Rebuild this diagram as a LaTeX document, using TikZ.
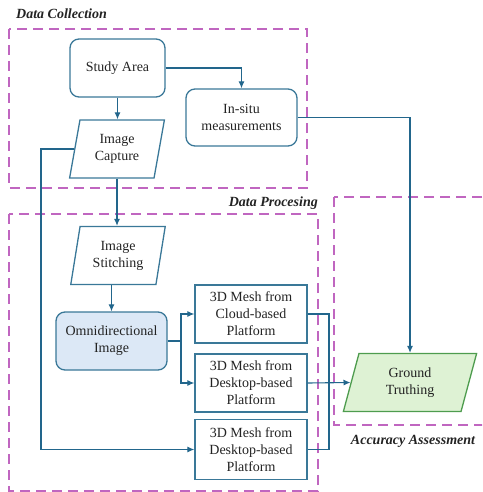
\documentclass[tikz,border=0pt]{standalone}
\usepackage{fontspec}
\setmainfont{Liberation Serif}
\usetikzlibrary{shapes.geometric,arrows.meta}
\definecolor{flowline}{RGB}{34,102,140}
\definecolor{boxedge}{RGB}{58,120,152}
\definecolor{omnifill}{RGB}{220,232,246}
\definecolor{gtfill}{RGB}{222,242,212}
\definecolor{gtedge}{RGB}{78,156,78}
\definecolor{zonepurple}{RGB}{192,102,192}
\definecolor{textdark}{RGB}{35,35,35}
\begin{document}
\begin{tikzpicture}[x=1pt,y=-1pt,
  base/.style={align=center, inner sep=0pt, text=textdark,
    font=\fontsize{14}{17}\selectfont, line width=1.3pt},
  roundbox/.style={base, draw=boxedge, rounded corners=9pt, minimum height=58pt},
  meshbox/.style={base, draw=boxedge, rectangle, minimum width=112pt, minimum height=58pt},
  para/.style={base, draw=boxedge, trapezium, trapezium stretches=true,
    trapezium left angle=78, trapezium right angle=102, minimum height=58pt},
  zone/.style={draw=zonepurple, line width=2.6pt, dash pattern=on 10pt off 6pt},
  zonelabel/.style={text=textdark, inner sep=0pt,
    font=\fontsize{14}{17}\selectfont\bfseries\itshape},
  link/.style={draw=flowline, line width=1.1pt},
  flow/.style={link, -{Latex[length=7pt,width=6pt]}}
]
\useasboundingbox (0,0) rectangle (482,492);
\clip (0,0) rectangle (482,492);

% dashed stage frames
\draw[zone] (9,29) rectangle (307,188);
\draw[zone] (9,214) rectangle (318,491);
\draw[zone] (334,197) rectangle (492,425);

% stage titles
\node[zonelabel, anchor=base west] (lblcollect) at (16,18.5) {Data Collection};
\node[zonelabel, anchor=base east] (lblproc) at (318,206.5) {Data Procesing};
\node[zonelabel, anchor=base] (lblacc) at (413,444) {Accuracy Assessment};

% process steps
\node[roundbox, minimum width=95pt] (study) at (117.5,68) {Study Area};
\node[roundbox, minimum width=111pt, minimum height=57pt] (insitu) at (241.5,117.5) {In-situ\\measurements};
\node[para, minimum width=95pt] (cap) at (117,149) {Image\\Capture};
\node[para, minimum width=95pt] (stitch) at (118,255.5) {Image\\Stitching};
\node[roundbox, fill=omnifill, minimum width=111pt] (omni) at (111.5,341) {Omnidirectional\\Image};
\node[meshbox] (mesh1) at (251,314) {3D Mesh from\\Cloud-based\\Platform};
\node[meshbox] (mesh2) at (251,383) {3D Mesh from\\Desktop-based\\Platform};
\node[meshbox, minimum height=60pt] (mesh3) at (251,449.5) {3D Mesh from\\Desktop-based\\Platform};
\node[para, fill=gtfill, draw=gtedge, minimum width=134pt,
  trapezium left angle=76, trapezium right angle=104] (gt) at (410,382.5) {Ground\\Truthing};

% connectors
\coordinate (split) at (181,341);
\coordinate (joinx) at (329,314);
\coordinate (leftrail) at (41,150);

\draw[flow] (study.south) -- (study.south |- cap.north);
\draw[flow] (study.east) -| (insitu.north);
\draw[flow] (cap.south) -- (cap.south |- stitch.north);
\draw[flow] (omni.north |- stitch.south) -- (omni.north);
\draw[link] (omni.east) -- (split);
\draw[flow] (split) |- (mesh1.west);
\draw[flow] (split) |- (mesh2.west);
\draw[link] (mesh1.east) -- (mesh1.east -| joinx) -- (mesh3.east -| joinx) -- (mesh3.east);
\draw[flow] (mesh2.east) -- (gt.180);
\draw[flow] (insitu.east) -| (gt.north);
\draw[flow] (cap.180) -- (cap.180 -| leftrail) |- (mesh3.west);
\end{tikzpicture}
\end{document}
